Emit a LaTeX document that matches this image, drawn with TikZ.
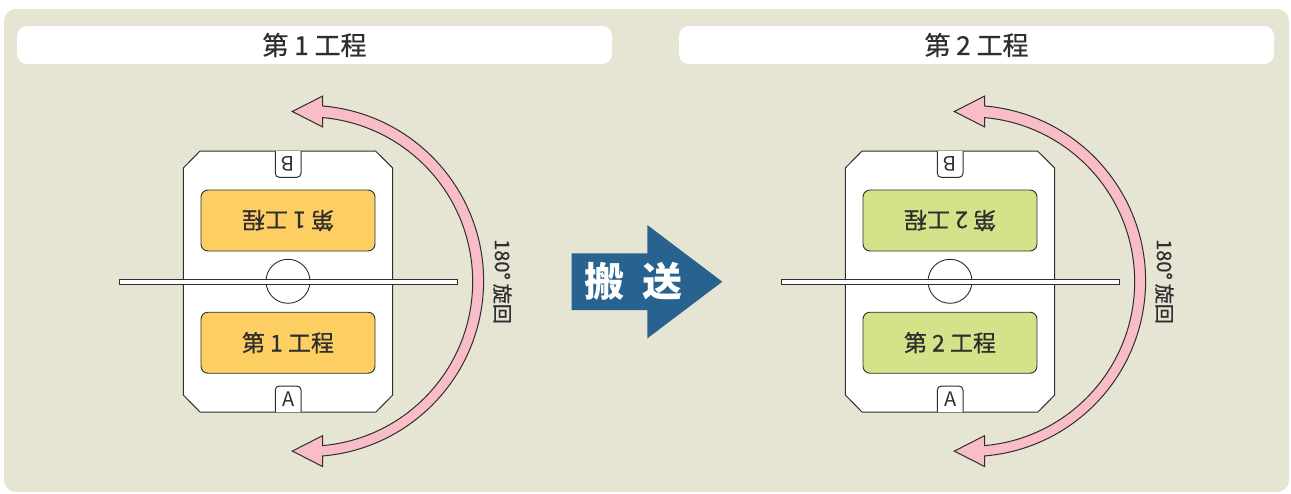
\documentclass[tikz,border=0pt]{standalone}
\usepackage{fontspec}
\setmainfont{Noto Sans CJK JP}
\newfontfamily\medfont{Noto Sans CJK JP}[FakeBold=0.6]
\definecolor{bgc}{HTML}{E6E4D3}
\definecolor{orangec}{HTML}{FDCF63}
\definecolor{greenc}{HTML}{D4E28A}
\definecolor{pinkc}{HTML}{F8BDC6}
\definecolor{bluec}{HTML}{28638F}
\definecolor{inkc}{HTML}{2E2E2E}
\tikzset{
  hdrbox/.style={fill=white, rounded corners=10pt, minimum width=595pt, minimum height=38pt, inner sep=0pt, text=inkc, font=\medfont\fontsize{26}{30}\selectfont},
  procbox/.style={draw=inkc, line width=0.9pt, rounded corners=7pt, minimum width=174pt, minimum height=61pt, inner sep=0pt, text=inkc, font=\medfont\fontsize{23}{27}\selectfont},
  outline/.style={draw=inkc, line width=1pt},
  letter/.style={inner sep=0pt, text=inkc, font=\fontsize{20}{24}\selectfont},
  arcarrow/.style={fill=pinkc, draw=inkc, line width=1pt, line join=miter},
  turnlabel/.style={inner sep=0pt, rotate=-90, text=inkc, font=\medfont\fontsize{20}{24}\selectfont},
}
\newcommand{\drawPanel}[3]{%
\begin{scope}[xshift=#1pt]
  \node[hdrbox] (hdr#3) at (314.5,45) {第 #3 工程};
  % table
  \draw[outline, fill=white] (200,151) -- (375.5,151) -- (392.7,168) -- (392.7,395) -- (376,412) -- (200,412) -- (183.3,395) -- (183.3,168) -- cycle;
  % B tab
  \draw[outline, fill=white, rounded corners=4pt] (275.3,151) -- (275.3,177.3) -- (301,177.3) -- (301,151);
  \node[letter, rotate=180] (B#3) at (288.2,164.2) {B};
  % A tab
  \draw[outline, fill=white, rounded corners=4pt] (275.3,412) -- (275.3,386) -- (301,386) -- (301,412);
  \node[letter] (A#3) at (288.2,399.2) {A};
  % process boxes
  \node[procbox, fill=#2, rotate=180] (up#3) at (288,220.5) {第 #3 工程};
  \node[procbox, fill=#2] (low#3) at (288,342.7) {第 #3 工程};
  % hub and bar
  \node[circle, draw=inkc, line width=0.9pt, fill=white, minimum size=44pt, inner sep=0pt] (hub#3) at (288,281.3) {};
  \draw[draw=inkc, line width=0.9pt, fill=white] (119,279.2) rectangle (457,284.4);
  % rotation arrow
  \draw[arcarrow] (322.7,106) arc[start angle=-85.2, end angle=85.2, radius=175.6]
     -- (322.7,466.6) -- (292.3,451.1) -- (322.7,435.6) -- (322.7,445.6)
     arc[start angle=84.88, end angle=-84.88, radius=164.66]
     -- (322.7,127) -- (292.3,111.5) -- (322.7,96) -- cycle;
  \node[turnlabel] (turn#3) at (502.5,281.5) {180°\hspace{4pt}旋回};
\end{scope}}
\begin{document}
\begin{tikzpicture}[x=1pt,y=-1pt]
\useasboundingbox (0,0) rectangle (1291,493);
\fill[bgc, rounded corners=12pt] (4,9) rectangle (1289,492);
\drawPanel{0}{orangec}{1}
\drawPanel{662}{greenc}{2}
% transfer arrow
\fill[bluec] (571.7,253.3) -- (647.3,253.3) -- (647.3,225) -- (722.3,281.7) -- (647.3,338.4) -- (647.3,310) -- (571.7,310) -- cycle;
\node[inner sep=0pt, text=white, font=\fontsize{40}{44}\selectfont\bfseries] (move) at (633.5,281.5) {搬\hspace{18pt}送};
\end{tikzpicture}
\end{document}
